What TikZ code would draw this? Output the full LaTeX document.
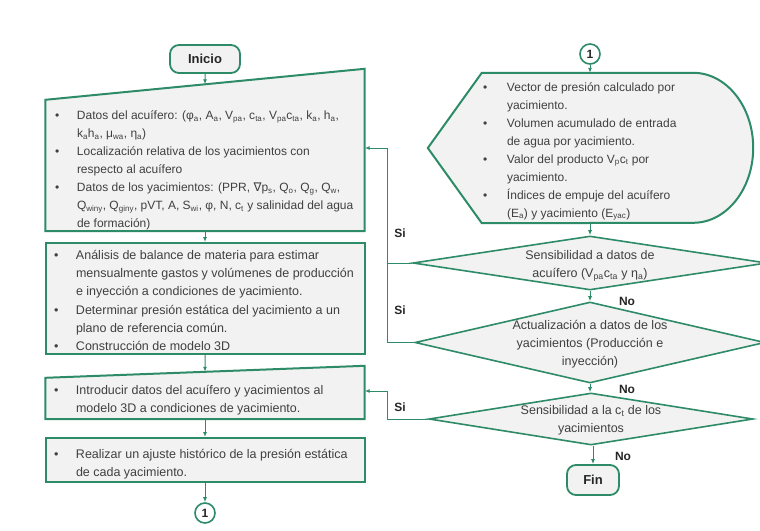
\documentclass[tikz,border=0pt]{standalone}
\usepackage{fontspec}
\setmainfont{Liberation Sans}
\newfontfamily\simbolos{DejaVu Sans}
\usetikzlibrary{shapes.geometric,arrows.meta,calc,backgrounds}
\definecolor{flowgreen}{HTML}{2E8B68}
\definecolor{boxfill}{HTML}{F2F2F2}
\definecolor{textgray}{HTML}{404040}
\definecolor{labelblack}{HTML}{262626}

\newcommand{\subi}[1]{\textsubscript{#1}}
\newcommand{\vineta}[2][22pt]{\par\hangindent=#1\hangafter=1\noindent\makebox[#1][l]{\textbullet}#2}
\newcommand{\bloque}[3]{\raisebox{#2}[0pt][0pt]{\parbox[t]{#1}{\raggedright #3}}}
\newcommand{\centro}[3]{\raisebox{#2}[0pt][0pt]{\parbox[t]{#1}{\centering #3}}}

\begin{document}
\begin{tikzpicture}[
    x=1pt, y=-1pt,
    >={Latex[length=5pt,width=4pt]},
    every node/.style={text=textgray, font=\fontsize{12}{18}\selectfont},
    letra/.style={font=\fontsize{12.5}{18.2}\selectfont},
    caja/.style={rectangle, minimum width=319pt, inner sep=0pt},
    borde/.style={draw=flowgreen, line width=2pt, fill=boxfill},
    terminal/.style={
        draw=flowgreen,
        line width=1.8pt,
        fill=boxfill,
        rounded corners=9pt,
        inner sep=0pt,
        font=\fontsize{13}{15}\selectfont\bfseries,
        text=labelblack
    },
    decision/.style={diamond, draw=flowgreen, line width=1.6pt, fill=boxfill, inner sep=0pt, letra},
    conector/.style={
        circle,
        draw=flowgreen,
        line width=1.6pt,
        fill=white,
        minimum size=20pt,
        inner sep=0pt,
        font=\fontsize{12}{14}\selectfont\bfseries,
        text=labelblack
    },
    flecha/.style={->, draw=flowgreen, line width=1pt},
    linea/.style={draw=flowgreen, line width=1pt},
    respuesta/.style={font=\fontsize{12}{14}\selectfont\bfseries, text=labelblack}
]
\useasboundingbox (0,0) rectangle (760,530);

% columna izquierda
\node[terminal, minimum width=70pt, minimum height=28pt] (inicio) at (205,59) {Inicio};

\node[caja, minimum height=131pt] (datos) at (205,165.5) {\bloque{300pt}{46pt}{%
    \vineta{Datos del acuífero: (φ\subi{a}, A\subi{a}, V\subi{pa}, c\subi{ta}, V\subi{pa}c\subi{ta}, k\subi{a}, h\subi{a},\newline k\subi{a}h\subi{a}, μ\subi{wa}, η\subi{a})}
    \vineta{Localización relativa de los yacimientos con\newline respecto al acuífero}
    \vineta{Datos de los yacimientos: (PPR, {\simbolos ∇}p\subi{s}, Q\subi{o}, Q\subi{g}, Q\subi{w},\newline Q\subi{winy}, Q\subi{giny}, pVT, A, S\subi{wi}, φ, N, c\subi{t} y salinidad del agua\newline de formación)}}};

\node[caja, borde, letra, minimum height=111pt] (proceso) at (205,298.5) {\bloque{302pt}{39pt}{%
    \vineta{Análisis de balance de materia para estimar\newline mensualmente gastos y volúmenes de producción\newline e inyección a condiciones de yacimiento.}
    \vineta{Determinar presión estática del yacimiento a un\newline plano de referencia común.}
    \vineta{Construcción de modelo 3D}}};

\node[caja, letra, minimum height=41pt] (introducir) at (205,398.5) {\bloque{302pt}{4.2pt}{%
    \vineta{Introducir datos del acuífero y yacimientos al\newline modelo 3D a condiciones de yacimiento.}}};

\node[caja, borde, letra, minimum height=44pt] (ajuste) at (205,460) {\bloque{302pt}{1.7pt}{%
    \vineta{Realizar un ajuste histórico de la presión estática\newline de cada yacimiento.}}};

\node[conector] (con2) at (205,513) {1};

% columna derecha
\node[conector] (con1) at (590,54) {1};

\node[rectangle, minimum width=325pt, minimum height=150pt, inner sep=0pt] (resultados) at (590.5,148) {\bloque{215pt}{57pt}{%
    \vineta[24pt]{Vector de presión calculado por\newline yacimiento.}
    \vineta[24pt]{Volumen acumulado de entrada\newline de agua por yacimiento.}
    \vineta[24pt]{Valor del producto V\subi{p}c\subi{t} por\newline yacimiento.}
    \vineta[24pt]{Índices de empuje del acuífero\newline (E\subi{a}) y yacimiento (E\subi{yac})}}};

\node[decision, minimum width=354pt, minimum height=54pt, shape aspect=6.56] (sens1) at (590,263)
    {\centro{220pt}{3.7pt}{Sensibilidad a datos de\\ acuífero (V\subi{pa}c\subi{ta} y η\subi{a})}};
\node[decision, minimum width=350pt, minimum height=81pt, shape aspect=4.32] (actualiza) at (590,342.5)
    {\centro{220pt}{13.2pt}{Actualización a datos de los\\ yacimientos (Producción e\\ inyección)}};
\node[decision, minimum width=324pt, minimum height=52pt, shape aspect=6.23] (sens3) at (591,419)
    {\centro{220pt}{4.7pt}{Sensibilidad a la c\subi{t} de los\\ yacimientos}};

\node[terminal, minimum width=52pt, minimum height=30pt] (fin) at (593,480) {Fin};

% respuestas
\node[respuesta] (si1) at (400,233) {Si};
\node[respuesta] (si2) at (400,310) {Si};
\node[respuesta] (si3) at (400,407) {Si};
\node[respuesta] (no1) at (627,301) {No};
\node[respuesta] (no2) at (627,389) {No};
\node[respuesta] (no3) at (623,456) {No};

\coordinate (regreso) at (387,148);
\coordinate (regreso2) at (387,391);
\coordinate (datos-top) at ($(datos.north west)!0.5!([yshift=31pt]datos.north east)$);
\coordinate (introducir-top) at ($(introducir.north west)!0.5!([yshift=12pt]introducir.north east)$);

\begin{scope}[on background layer]
\draw[borde] (datos.south west) -- (datos.north west) -- ([yshift=31pt]datos.north east) -- (datos.south east) -- cycle;
\draw[borde] (introducir.south west) -- (introducir.north west) -- ([yshift=12pt]introducir.north east) -- (introducir.south east) -- cycle;
\draw[borde] (resultados.west) -- ([xshift=54pt]resultados.north west) -- ([xshift=-60pt]resultados.north east)
    arc[start angle=90, end angle=-90, x radius=60pt, y radius=75pt] -- ([xshift=54pt]resultados.south west) -- cycle;
\end{scope}

% flujo principal
\draw[flecha] (inicio.south) -- (datos-top);
\draw[flecha] (datos.south) -- (proceso.north);
\draw[flecha] (proceso.south) -- (introducir-top);
\draw[flecha] (introducir.south) -- (ajuste.north);
\draw[flecha] (ajuste.south) -- (con2.north);

\draw[flecha] (con1.south) -- (con1.south |- resultados.north);
\draw[flecha] (sens1.north |- resultados.south) -- (sens1.north);
\draw[flecha] (sens1.south) -- (actualiza.north);
\draw[flecha] (actualiza.south) -- (actualiza.south |- sens3.north);
\draw[flecha] (fin.north |- sens3.south) -- (fin.north);

% regresos
\draw[flecha] (sens1.west) -| (regreso) -- (regreso -| datos.east);
\draw[linea] (actualiza.west) -| (sens1.west -| regreso);
\draw[flecha] (sens3.west) -| (regreso2) -- (regreso2 -| introducir.east);

\end{tikzpicture}
\end{document}
